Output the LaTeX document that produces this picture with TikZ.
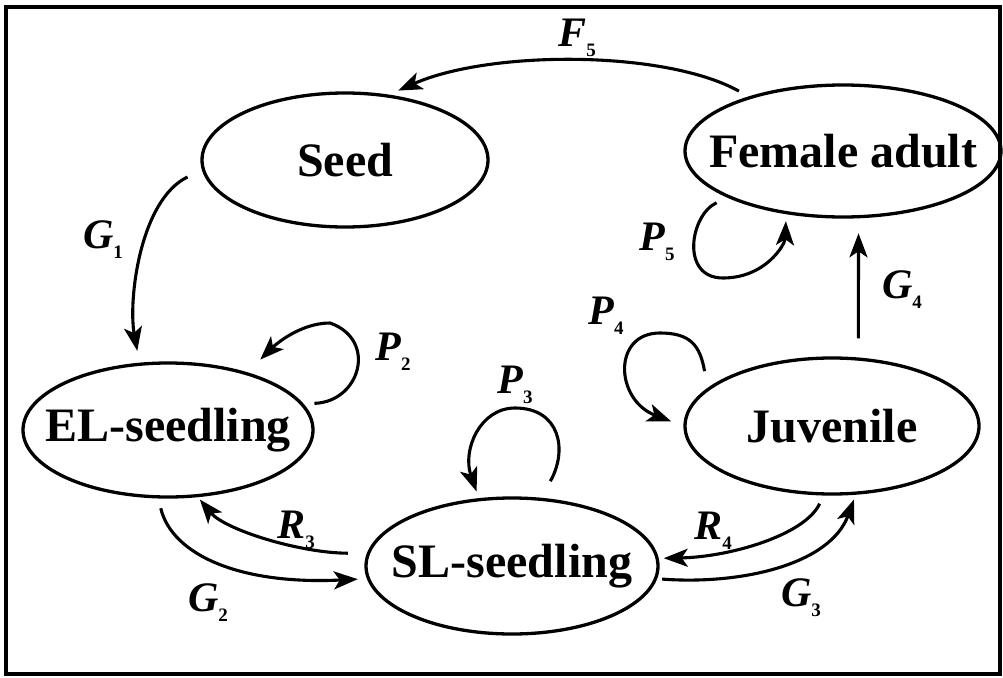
\documentclass[tikz,border=0pt]{standalone}
\usepackage{fontspec}
\setmainfont{Liberation Serif}
\usetikzlibrary{arrows.meta,shapes.geometric}
\newcommand{\lbsub}[2]{{\fontsize{42}{42}\selectfont\bfseries\itshape #1}\raisebox{-10pt}{\fontsize{19}{19}\selectfont\bfseries #2}}
\begin{document}
\begin{tikzpicture}[x=1pt,y=-1pt,
  state/.style={ellipse,draw,line width=3.3pt,inner sep=0pt,font=\fontsize{48}{48}\selectfont\bfseries},
  arr/.style={line width=3.1pt,-{Stealth[length=24pt,width=18pt,inset=6pt]}},
  lab/.style={inner sep=0pt}]
\useasboundingbox (0,0) rectangle (1003,677);
\draw[line width=3.5pt] (6,7) rectangle (1000,674);
% states
\node[state,minimum width=286pt,minimum height=134pt] (seed) at (345,160) {\makebox[0pt]{Seed}};
\node[state,minimum width=316pt,minimum height=132pt] (fem) at (843,151) {\makebox[0pt]{Female adult}};
\node[state,minimum width=290pt,minimum height=134pt] (el) at (168,430) {\makebox[0pt]{EL-seedling}};
\node[state,minimum width=292pt,minimum height=136pt] (sl) at (512,566) {\makebox[0pt]{SL-seedling}};
\node[state,minimum width=294pt,minimum height=136pt] (juv) at (832,426) {\makebox[0pt]{Juvenile}};
% connectors
\draw[arr,shorten <=11pt,shorten >=10pt] (fem.150) .. controls (665,50) and (490,50) .. (seed.56);
\draw[arr,shorten <=16pt,shorten >=12pt] (seed.184) .. controls (140,200) and (128,300) .. (el.113);
\draw[arr,shorten <=12pt,shorten >=7pt] (fem.202) .. controls (690,215) and (680,278) .. (723,278) .. controls (765,278) and (785,245) .. (fem.228);
\draw[arr,shorten <=19pt,shorten >=15pt] (juv.69) -- (fem.-77);
\draw[arr,shorten <=11pt,shorten >=18pt] (el.11) .. controls (360,402) and (378,340) .. (330,323) .. controls (300,323) and (275,345) .. (el.36);
\draw[arr,shorten <=19pt,shorten >=7pt] (sl.67) .. controls (568,450) and (560,408) .. (515,408) .. controls (480,408) and (462,450) .. (sl.116);
\draw[arr,shorten <=17pt,shorten >=13pt] (juv.163) .. controls (700,345) and (690,333) .. (660,333) .. controls (612,333) and (615,400) .. (juv.180);
\draw[arr,shorten <=19pt,shorten >=3pt] (sl.175) .. controls (300,553) and (225,530) .. (el.-66);
\draw[arr,shorten <=10pt,shorten >=9pt] (el.-98) .. controls (172,555) and (240,585) .. (sl.185);
\draw[arr,shorten <=9pt,shorten >=5pt] (juv.-97) .. controls (805,535) and (730,557) .. (sl.3);
\draw[arr,shorten <=5pt,shorten >=5pt] (sl.-5) .. controls (740,585) and (830,565) .. (juv.-71);
% labels
\node[lab] (lF5) at (577,38) {\lbsub{F}{5}};
\node[lab] (lG1) at (103,240) {\lbsub{G}{1}};
\node[lab] (lP5) at (657,242) {\lbsub{P}{5}};
\node[lab] (lG4) at (902,290) {\lbsub{G}{4}};
\node[lab] (lP2) at (393,352) {\lbsub{P}{2}};
\node[lab] (lP3) at (515,385) {\lbsub{P}{3}};
\node[lab] (lP4) at (606,316) {\lbsub{P}{4}};
\node[lab] (lR3) at (296,530) {\lbsub{R}{3}};
\node[lab] (lG2) at (208,603) {\lbsub{G}{2}};
\node[lab] (lR4) at (713,531) {\lbsub{R}{4}};
\node[lab] (lG3) at (801,598) {\lbsub{G}{3}};
\end{tikzpicture}
\end{document}
